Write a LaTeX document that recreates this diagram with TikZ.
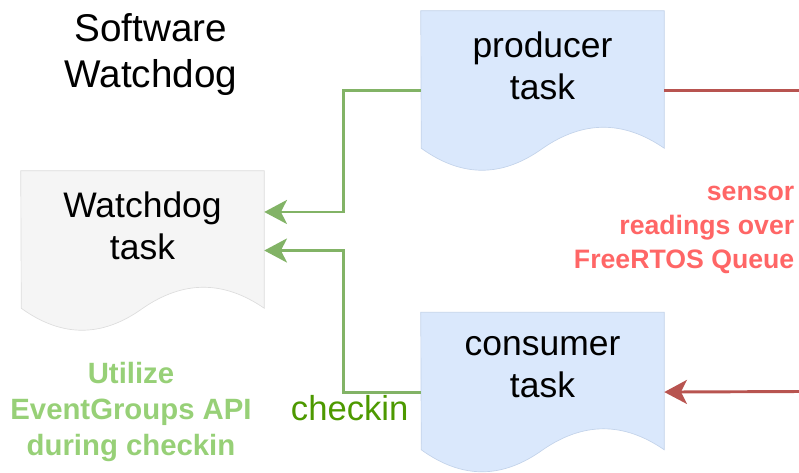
\documentclass[tikz,border=0pt]{standalone}
\usepackage{fontspec}
\setmainfont{Liberation Sans}
\usepackage{xcolor}
\usepackage{tikz}
\usetikzlibrary{arrows.meta,positioning,backgrounds}

\definecolor{taskblue}{HTML}{DAE8FC}
\definecolor{taskedge}{HTML}{C3D3EA}
\definecolor{wdgray}{HTML}{F5F5F5}
\definecolor{wdedge}{HTML}{DDDDDD}
\definecolor{linegreen}{HTML}{82B366}
\definecolor{darkgreen}{HTML}{4D9900}
\definecolor{lightgreen}{HTML}{97D077}
\definecolor{linered}{HTML}{B85450}
\definecolor{textred}{HTML}{FF6666}

% wavy-bottom document outline round a task node
\newcommand{\docshape}[3]{%
  \path[fill=#2, draw=#3, line width=0.5pt] (#1.north west) -- (#1.north east)
    -- ([yshift=16.5pt]#1.south east)
    .. controls +(-40.7,-28) and +(40.7,-28) .. ++(-121.5,0)
    .. controls +(-40.7,29.3) and +(40.7,29.3) .. ++(-121.5,0) -- cycle;}

\begin{document}
\begin{tikzpicture}[
  x=0.75pt, y=-0.75pt,
  node distance=106.5pt,
  task/.style={minimum width=182.25pt, minimum height=119.25pt, inner sep=0pt,
    label={[yshift=18.4pt, align=center, font=\fontsize{26.6}{31.5}\selectfont]center:#1}},
  greenarr/.style={-{Stealth[length=17pt, width=18pt, inset=4.5pt]}, draw=linegreen, line width=2.2pt},
  redline/.style={draw=linered, line width=2.2pt},
  redarr/.style={redline, -{Stealth[length=17pt, width=18pt, inset=4.5pt]}}
]
  \useasboundingbox (0,0) rectangle (799,472);

  \node[align=center, font=\fontsize{29}{34.5}\selectfont] (title) at (151,55) {Software\\Watchdog};

  \node[task={producer\\task}] (prod) at (542.5,90.5) {};
  \node[task={consumer\\task}, below=of prod] (cons) {};
  \node[task={Watchdog\\task}] (wd) at (142.5,250.5) {};

  \begin{scope}[on background layer]
    \docshape{prod}{taskblue}{taskedge}
    \docshape{cons}{taskblue}{taskedge}
    \docshape{wd}{wdgray}{wdedge}
  \end{scope}

  \coordinate (qout) at (800,90.5);
  \coordinate (qin) at (800,391.5);

  \node[anchor=east, align=right, text=textred, font=\bfseries\fontsize{20}{25.5}\selectfont] (qlabel) at (799,230) {sensor\\readings over\\FreeRTOS Queue};
  \node[align=center, text=lightgreen, font=\bfseries\fontsize{22}{27}\selectfont] (note) at (131,412) {Utilize\\EventGroups API\\during checkin};

  % checkins to the watchdog
  \draw[greenarr] (prod.west) -- ++(-77,0) |- ([yshift=28.9pt]wd.east);
  \draw[greenarr] (cons.west) -- node[text=darkgreen, font=\fontsize{26}{30}\selectfont, xshift=-24.4pt, yshift=-12.4pt]{checkin} ++(-77,0) |- (wd.east);

  % queue between the tasks
  \draw[redline] (prod.east) -- (qout);
  \draw[redarr] (qin) -- (cons.east);
\end{tikzpicture}
\end{document}
